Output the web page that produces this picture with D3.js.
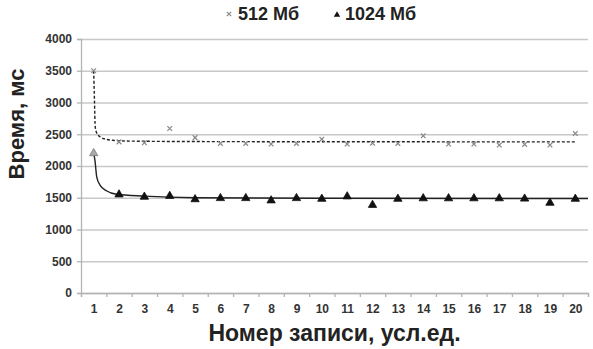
<!DOCTYPE html>
<html>
<head>
<meta charset="utf-8">
<script src="https://cdn.jsdelivr.net/npm/d3@7"></script>
<style>
	body { margin: 0; background: #fff; }
	svg { font-family: "Liberation Sans", Arial, sans-serif; }
</style>
</head>
<body>
<div id="chart"></div>
<script>
// номера записей
var records = [1, 2, 3, 4, 5, 6, 7, 8, 9, 10, 11, 12, 13, 14, 15, 16, 17, 18, 19, 20];

// время, мс
var time512 = [3500, 2380, 2365, 2590, 2447, 2355, 2355, 2345, 2355, 2423,
	2345, 2360, 2355, 2475, 2345, 2345, 2330, 2340, 2330, 2513];
var time1024 = [2200, 1551, 1514, 1528, 1475, 1493, 1493, 1457, 1493, 1482,
	1520, 1386, 1482, 1490, 1490, 1490, 1490, 1485, 1419, 1482];

// линии тренда
var trend512X = [1, 1.03, 1.06, 1.12, 1.25, 1.5, 1.75, 2.5, 5, 10, 20];
var trend512Y = [3500, 3050, 2620, 2520, 2460, 2420, 2405, 2392, 2385, 2382, 2380];
var trend1024X = [1, 1.05, 1.12, 1.25, 1.5, 1.9, 3, 5, 10, 20, 20.5];
var trend1024Y = [2200, 2090, 1830, 1700, 1610, 1555, 1525, 1500, 1492, 1488, 1488];

var yTicks = [0, 500, 1000, 1500, 2000, 2500, 3000, 3500, 4000];
var legendNames = ["512 Мб", "1024 Мб"];

var W = 593, H = 349;
var margin = { left: 81, right: 5, top: 39, bottom: 56 };
var pw = W - margin.left - margin.right;
var ph = H - margin.top - margin.bottom;

var svg = d3.select("#chart").append("svg")
	.attr("width", W)
	.attr("height", H);

var x = d3.scaleLinear().domain([0.5, 20.5]).range([0, pw]);
var y = d3.scaleLinear().domain([0, 4000]).range([ph, 0]);

var g = svg.append("g")
	.attr("transform", "translate(" + margin.left + "," + margin.top + ")");

// сетка
g.append("g")
	.attr("class", "grid")
	.call(d3.axisLeft(y).tickValues(yTicks).tickSize(-pw).tickFormat(""))
	.call(function (s) { s.select(".domain").remove(); });
g.selectAll(".grid line").attr("stroke", "#c8c8c8").attr("stroke-width", 1.5);

// ось Y
g.append("g")
	.attr("class", "y-axis")
	.call(d3.axisLeft(y).tickValues(yTicks).tickSize(4).tickPadding(5).tickFormat(d3.format("d")));

// ось X: засечки между категориями
var bounds = d3.range(21).map(function (i) { return i + 0.5; });
g.append("g")
	.attr("class", "x-axis")
	.attr("transform", "translate(0," + ph + ")")
	.call(d3.axisBottom(x).tickValues(bounds).tickSize(4).tickFormat(""));

g.append("g")
	.attr("class", "x-labels")
	.attr("transform", "translate(0," + ph + ")")
	.call(d3.axisBottom(x).tickValues(records).tickSize(0).tickPadding(11).tickFormat(d3.format("d")))
	.call(function (s) { s.select(".domain").remove(); });

svg.selectAll(".y-axis path, .y-axis line, .x-axis path, .x-axis line")
	.attr("stroke", "#b4b4b4").attr("stroke-width", 1.3);
svg.selectAll(".y-axis text, .x-labels text")
	.attr("fill", "#333")
	.style("font-size", "12px")
	.style("font-weight", "bold")
	.style("font-family", "'Liberation Sans', Arial, sans-serif");

// тренды
var line = d3.line()
	.x(function (d) { return x(d[0]); })
	.y(function (d) { return y(d[1]); })
	.curve(d3.curveMonotoneX);

g.append("path")
	.datum(d3.zip(trend512X, trend512Y))
	.attr("d", line)
	.attr("fill", "none")
	.attr("stroke", "#222")
	.attr("stroke-width", 1.4)
	.attr("stroke-dasharray", "3,2");

g.append("path")
	.datum(d3.zip(trend1024X, trend1024Y))
	.attr("d", line)
	.attr("fill", "none")
	.attr("stroke", "#222")
	.attr("stroke-width", 1.4);

// точки 512 Мб (крестики)
var cross = d3.symbol().type(d3.symbolX).size(16);
g.selectAll(".p512")
	.data(time512)
	.join("path")
	.attr("class", "p512")
	.attr("transform", function (d, i) { return "translate(" + x(records[i]) + "," + y(d) + ")"; })
	.attr("d", cross)
	.attr("fill", "none")
	.attr("stroke", "#888")
	.attr("stroke-width", 1.2);

// точки 1024 Мб (треугольники)
var tri = d3.symbol().type(d3.symbolTriangle).size(30);
g.selectAll(".p1024")
	.data(time1024)
	.join("path")
	.attr("class", "p1024")
	.attr("transform", function (d, i) { return "translate(" + x(records[i]) + "," + y(d) + ")"; })
	.attr("d", tri)
	.attr("fill", function (d, i) { return i == 0 ? "#aaa" : "#111"; })
	.attr("stroke", function (d, i) { return i == 0 ? "#777" : "#111"; })
	.attr("stroke-width", 0.8);

// легенда
var leg = svg.append("g").attr("transform", "translate(0,14)");
leg.append("path")
	.attr("transform", "translate(229,0)")
	.attr("d", d3.symbol().type(d3.symbolX).size(14))
	.attr("fill", "none")
	.attr("stroke", "#888")
	.attr("stroke-width", 1.2);
leg.append("text")
	.attr("x", 238).attr("y", 6)
	.style("font-size", "18px").style("font-weight", "bold")
	.attr("fill", "#222")
	.text(legendNames[0]);
leg.append("path")
	.attr("transform", "translate(337,1)")
	.attr("d", d3.symbol().type(d3.symbolTriangle).size(18))
	.attr("fill", "#111");
leg.append("text")
	.attr("x", 345).attr("y", 6)
	.style("font-size", "18px").style("font-weight", "bold")
	.attr("fill", "#222")
	.text(legendNames[1]);

// подписи осей
svg.append("text")
	.attr("transform", "translate(24,124) rotate(-90)")
	.attr("text-anchor", "middle")
	.style("font-size", "22px").style("font-weight", "bold")
	.attr("fill", "#222")
	.text("Время, мс");

svg.append("text")
	.attr("x", margin.left + pw / 2)
	.attr("y", 341)
	.attr("text-anchor", "middle")
	.style("font-size", "23px").style("font-weight", "bold")
	.attr("fill", "#222")
	.text("Номер записи, усл.ед.");
</script>
</body>
</html>
